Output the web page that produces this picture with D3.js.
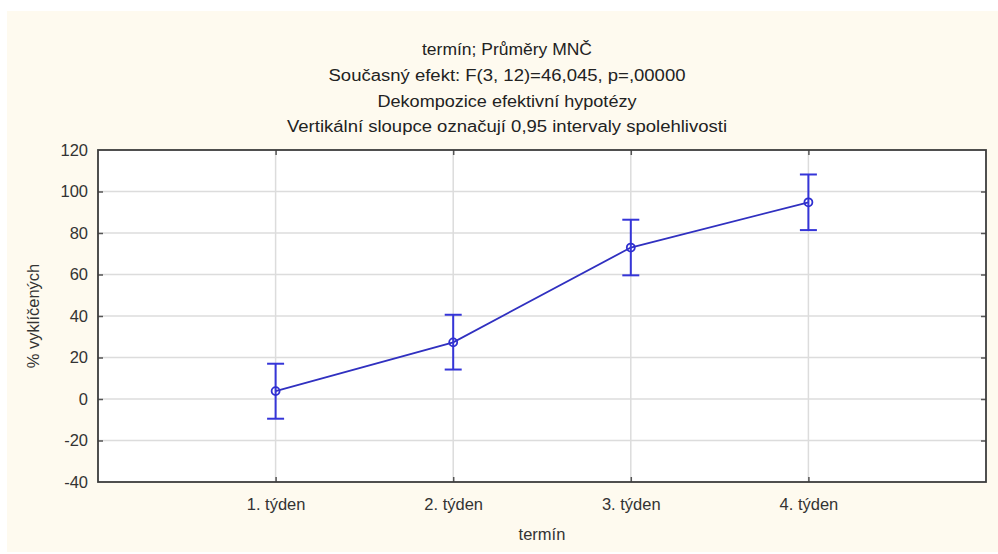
<!DOCTYPE html>
<html>
<head>
<meta charset="utf-8">
<script src="https://cdn.jsdelivr.net/npm/d3@7"></script>
<style>
  html, body { margin: 0; padding: 0; background: #ffffff; }
  svg { display: block; font-family: "Liberation Sans", Arial, sans-serif; }
</style>
</head>
<body>
<svg id="chart" width="998" height="554"></svg>
<script>
// ---- data ----
const categories = ["1. týden", "2. týden", "3. týden", "4. týden"];
const means = [3.8, 27.3, 73.0, 94.8];
const lower = [-9.5, 14.2, 59.6, 81.4];
const upper = [17.0, 40.6, 86.4, 108.2];
const yTicks = [-40, -20, 0, 20, 40, 60, 80, 100, 120];
const titleLines = [
  "termín; Průměry MNČ",
  "Současný efekt: F(3, 12)=46,045, p=,00000",
  "Dekompozice efektivní hypotézy",
  "Vertikální sloupce označují 0,95 intervaly spolehlivosti"
];
const xTitle = "termín";
const yTitle = "% vyklíčených";

// ---- layout ----
const W = 998, H = 554;
const plot = { left: 98, right: 986, top: 150, bottom: 482 };
const svg = d3.select("#chart");

svg.append("rect").attr("x", 7).attr("y", 11).attr("width", W - 7).attr("height", 541)
  .attr("fill", "#fefaef");

const x = d3.scaleLinear().domain([0, categories.length + 1]).range([plot.left, plot.right]);
const y = d3.scaleLinear().domain([-40, 120]).range([plot.bottom, plot.top]);

svg.append("rect").attr("x", plot.left).attr("y", plot.top)
  .attr("width", plot.right - plot.left).attr("height", plot.bottom - plot.top)
  .attr("fill", "#ffffff");

// gridlines
const grid = svg.append("g");
grid.selectAll("line.h").data(yTicks.slice(1, -1)).join("line")
  .attr("x1", plot.left).attr("x2", plot.right)
  .attr("y1", d => y(d)).attr("y2", d => y(d))
  .attr("stroke", "#dcdcdc").attr("stroke-width", 1.5);
grid.selectAll("line.v").data(categories).join("line")
  .attr("x1", (d, i) => x(i + 1)).attr("x2", (d, i) => x(i + 1))
  .attr("y1", plot.top).attr("y2", plot.bottom)
  .attr("stroke", "#dcdcdc").attr("stroke-width", 1.5);

// axes
const yAxis = d3.axisLeft(y).tickValues(yTicks).tickSize(-5).tickPadding(10)
  .tickFormat(d => String(d));
const gy = svg.append("g").attr("transform", `translate(${plot.left},0)`).call(yAxis);
const yAxisR = d3.axisRight(y).tickValues(yTicks).tickSize(-5).tickFormat("");
const gyr = svg.append("g").attr("transform", `translate(${plot.right},0)`).call(yAxisR);
const xAxis = d3.axisBottom(x).tickValues(d3.range(1, categories.length + 1))
  .tickFormat(d => categories[d - 1]).tickSize(-5).tickPadding(16);
const gx = svg.append("g").attr("transform", `translate(0,${plot.bottom})`).call(xAxis);
const xAxisT = d3.axisTop(x).tickValues(d3.range(1, categories.length + 1))
  .tickFormat("").tickSize(-5);
const gxt = svg.append("g").attr("transform", `translate(0,${plot.top})`).call(xAxisT);

[gy, gyr, gx, gxt].forEach(g => {
  g.select(".domain").remove();
  g.selectAll(".tick line").attr("stroke", "#555").attr("stroke-width", 1.5);
  g.selectAll(".tick text").attr("font-size", 16.5).attr("fill", "#333")
    .attr("font-family", "'Liberation Sans', Arial, sans-serif");
});
gy.selectAll(".tick line").filter(d => d === -40 || d === 120).remove();
gyr.selectAll(".tick line").filter(d => d === -40 || d === 120).remove();
gx.selectAll(".tick text").attr("dy", "0.71em");

// border
svg.append("rect").attr("x", plot.left).attr("y", plot.top)
  .attr("width", plot.right - plot.left).attr("height", plot.bottom - plot.top)
  .attr("fill", "none").attr("stroke", "#3c3c3c").attr("stroke-width", 1.8);

// titles
const cx = 507;
const titleY = [55, 81, 107, 132];
const titleW = [170, 357, 259, 440];
svg.append("g").selectAll("text").data(titleLines).join("text")
  .attr("x", cx).attr("y", (d, i) => titleY[i])
  .attr("text-anchor", "middle").attr("font-size", 16).attr("fill", "#222")
  .attr("textLength", (d, i) => titleW[i]).attr("lengthAdjust", "spacingAndGlyphs")
  .text(d => d);

svg.append("text").attr("x", (plot.left + plot.right) / 2).attr("y", 540)
  .attr("text-anchor", "middle").attr("font-size", 16.5).attr("fill", "#333")
  .text(xTitle);
svg.append("text").attr("transform", `translate(39,${(plot.top + plot.bottom) / 2}) rotate(-90)`)
  .attr("text-anchor", "middle").attr("font-size", 16.5).attr("fill", "#333")
  .text(yTitle);

// data line
const blue = "#2f2fd0";
const pts = means.map((m, i) => ({ i, m, lo: lower[i], hi: upper[i] }));
svg.append("path").datum(pts)
  .attr("d", d3.line().x(d => x(d.i + 1)).y(d => y(d.m)))
  .attr("fill", "none").attr("stroke", "#3030c0").attr("stroke-width", 1.8);

// error bars
const eb = svg.append("g").attr("stroke", "#3535d8").attr("stroke-width", 2).attr("fill", "none");
eb.selectAll("line.v").data(pts).join("line")
  .attr("x1", d => x(d.i + 1)).attr("x2", d => x(d.i + 1))
  .attr("y1", d => y(d.lo)).attr("y2", d => y(d.hi));
eb.selectAll("line.t").data(pts).join("line")
  .attr("x1", d => x(d.i + 1) - 8.5).attr("x2", d => x(d.i + 1) + 8.5)
  .attr("y1", d => y(d.hi)).attr("y2", d => y(d.hi));
eb.selectAll("line.b").data(pts).join("line")
  .attr("x1", d => x(d.i + 1) - 8.5).attr("x2", d => x(d.i + 1) + 8.5)
  .attr("y1", d => y(d.lo)).attr("y2", d => y(d.lo));

// markers
svg.append("g").selectAll("circle").data(pts).join("circle")
  .attr("cx", d => x(d.i + 1)).attr("cy", d => y(d.m)).attr("r", 4)
  .attr("fill", "none").attr("stroke", blue).attr("stroke-width", 1.8);
</script>
</body>
</html>
